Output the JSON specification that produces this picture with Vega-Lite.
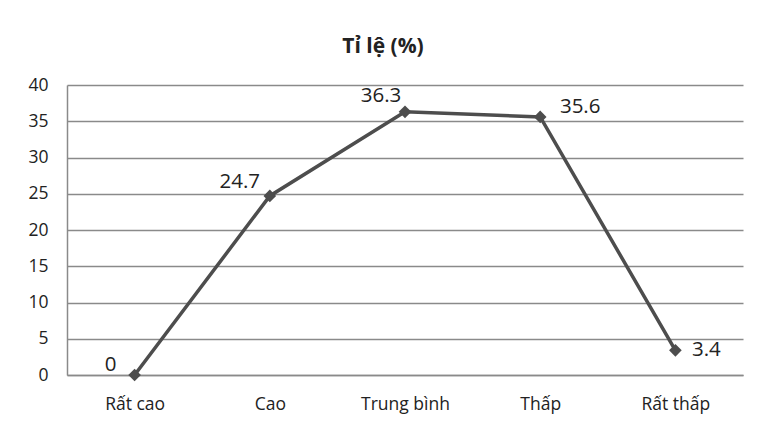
{
  "$schema": "https://vega.github.io/schema/vega-lite/v6.json",
  "autosize": "none",
  "width": 676,
  "height": 290,
  "padding": {"left": 67, "top": 85, "right": 15, "bottom": 59},
  "background": "white",
  "config": {
    "view": {"stroke": null},
    "font": "Open Sans"
  },
  "title": {
    "text": "Tỉ lệ (%)",
    "font": "Open Sans",
    "fontSize": 21,
    "fontWeight": "bold",
    "color": "#222222",
    "anchor": "middle",
    "dx": -22,
    "offset": 19
  },
  "data": {
    "values": [
      {"category": "Rất cao", "value": 0},
      {"category": "Cao", "value": 24.7},
      {"category": "Trung bình", "value": 36.3},
      {"category": "Thấp", "value": 35.6},
      {"category": "Rất thấp", "value": 3.4}
    ]
  },
  "encoding": {
    "x": {
      "field": "category",
      "type": "nominal",
      "sort": null,
      "scale": {"type": "point", "padding": 0.5},
      "axis": {
        "title": null,
        "labelAngle": 0,
        "labelFont": "Open Sans",
        "labelFontSize": 17.5,
        "labelColor": "#222222",
        "labelPadding": 20,
        "ticks": false,
        "domain": true,
        "domainColor": "#8a8a8a",
        "domainWidth": 1.5,
        "grid": false
      }
    },
    "y": {
      "field": "value",
      "type": "quantitative",
      "scale": {"domain": [0, 40], "nice": false},
      "axis": {
        "title": null,
        "values": [0, 5, 10, 15, 20, 25, 30, 35, 40],
        "labelFont": "Open Sans",
        "labelFontSize": 17.5,
        "labelColor": "#222222",
        "labelPadding": 19,
        "ticks": false,
        "domain": true,
        "domainColor": "#8a8a8a",
        "domainWidth": 1.5,
        "grid": true,
        "gridColor": "#8a8a8a",
        "gridWidth": 1.5
      }
    }
  },
  "layer": [
    {
      "mark": {"type": "line", "color": "#4d4d4d", "strokeWidth": 3.5}
    },
    {
      "mark": {"type": "point", "shape": "diamond", "filled": true, "color": "#4d4d4d", "size": 160, "opacity": 1}
    },
    {
      "transform": [{"filter": "datum.category === 'Rất cao'"}],
      "mark": {"type": "text", "fontSize": 20.5, "color": "#222222", "dx": -24, "dy": -10},
      "encoding": {"text": {"field": "value", "type": "quantitative"}}
    },
    {
      "transform": [{"filter": "datum.category === 'Cao'"}],
      "mark": {"type": "text", "fontSize": 20.5, "color": "#222222", "dx": -30, "dy": -14},
      "encoding": {"text": {"field": "value", "type": "quantitative"}}
    },
    {
      "transform": [{"filter": "datum.category === 'Trung bình'"}],
      "mark": {"type": "text", "fontSize": 20.5, "color": "#222222", "dx": -24, "dy": -16},
      "encoding": {"text": {"field": "value", "type": "quantitative"}}
    },
    {
      "transform": [{"filter": "datum.category === 'Thấp'"}],
      "mark": {"type": "text", "fontSize": 20.5, "color": "#222222", "dx": 40, "dy": -10},
      "encoding": {"text": {"field": "value", "type": "quantitative"}}
    },
    {
      "transform": [{"filter": "datum.category === 'Rất thấp'"}],
      "mark": {"type": "text", "fontSize": 20.5, "color": "#222222", "dx": 31, "dy": 0},
      "encoding": {"text": {"field": "value", "type": "quantitative"}}
    }
  ]
}
